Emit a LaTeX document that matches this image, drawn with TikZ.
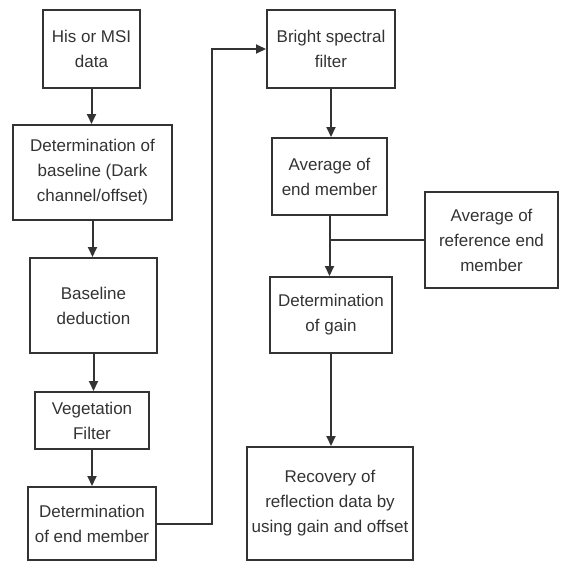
\documentclass[tikz,border=0pt]{standalone}
\usepackage{fontspec}
\setmainfont{Liberation Sans}
\usetikzlibrary{arrows.meta}
\definecolor{ink}{HTML}{333333}
\begin{document}
\begin{tikzpicture}[x=1pt,y=-1pt,
  box/.style={draw=ink,line width=2pt,rectangle,inner sep=0pt,align=center,text=ink,
    font=\fontsize{17}{25}\selectfont},
  arr/.style={draw=ink,line width=2pt,-{Triangle[length=10pt,width=9pt]}},
  ln/.style={draw=ink,line width=2pt}]
\path[use as bounding box] (0,0) rectangle (560,562);
\node[box,minimum width=97pt,minimum height=78pt] (b1) at (91.5,49) {His or MSI\\data};
\node[box,minimum width=159pt,minimum height=95pt] (b2) at (92.5,172.5) {Determination of\\baseline (Dark\\channel/offset)};
\node[box,minimum width=127pt,minimum height=95pt] (b3) at (93.5,305.5) {Baseline\\deduction};
\node[box,minimum width=114pt,minimum height=57pt] (b4) at (92,420.5) {Vegetation\\Filter};
\node[box,minimum width=128pt,minimum height=73pt] (b5) at (92,523.5) {Determination\\of end member};
\node[box,minimum width=128pt,minimum height=78pt] (b6) at (331,49) {Bright spectral\\filter};
\node[box,minimum width=115pt,minimum height=77pt] (b7) at (329.5,176.5) {Average of\\end member};
\node[box,minimum width=122pt,minimum height=76pt] (b8) at (331,315) {Determination\\of gain};
\node[box,minimum width=133pt,minimum height=96pt] (ref) at (491.5,240) {Average of\\reference end\\member};
\node[box,minimum width=166pt,minimum height=113pt] (b9) at (330,503.5) {Recovery of\\reflection data by\\using gain and offset};
\draw[arr] (b1.south) -- (b1.south |- b2.north);
\draw[arr] (b2.south) -- (b2.south |- b3.north);
\draw[arr] (b3.south) -- (b3.south |- b4.north);
\draw[arr] (b4.south) -- (b4.south |- b5.north);
\draw[arr] (b5.east) -- ++(55,0) |- (b6.west);
\draw[arr] (b6.south) -- (b6.south |- b7.north);
\draw[arr] (b7.south) -- (b7.south |- b8.north);
\draw[ln] (ref.west) -- (b7.south |- ref.west);
\draw[arr] (b8.south) -- (b8.south |- b9.north);
\end{tikzpicture}
\end{document}
